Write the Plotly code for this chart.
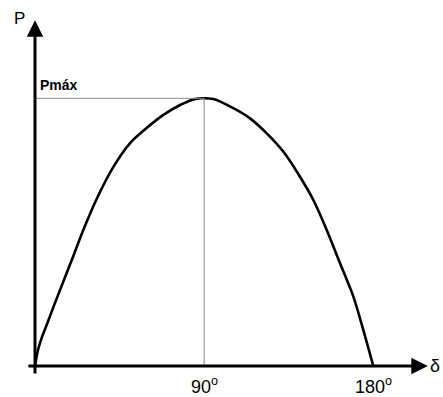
import plotly.graph_objects as go

# power-angle curve (delta in degrees, P relative to Pmax)
delta = [0, 1.6, 3.7, 6.4, 10.6, 15.4, 20.4, 25.7, 32.8, 41.7, 50.5, 59.4, 68.3,
         77.2, 83.5, 88.3, 94.9, 105.5, 114.4, 123.3, 132.1, 141.0, 148.1, 155.2,
         162.3, 169.4, 174.7, 180]
power = [0, 0.060, 0.108, 0.157, 0.235, 0.321, 0.411, 0.508, 0.624, 0.744, 0.832,
         0.889, 0.938, 0.975, 0.994, 1.0, 0.997, 0.963, 0.925, 0.869, 0.801, 0.707,
         0.620, 0.508, 0.384, 0.259, 0.134, 0]
tick_vals = [90, 180]
tick_text = ["90<sup>o</sup>", "180<sup>o</sup>"]
p_max = 1.0

W, H = 443, 397
FONT = "Liberation Sans, Arial, sans-serif"

fig = go.Figure()
fig.add_trace(go.Scatter(x=delta, y=power, mode="lines",
                         line=dict(color="black", width=2.6, shape="spline", smoothing=0.8),
                         hoverinfo="skip"))

# guide lines to the maximum
fig.add_shape(type="line", x0=0, y0=p_max, x1=90, y1=p_max,
              line=dict(color="#8a8a8a", width=1))
fig.add_shape(type="line", x0=90, y0=0, x1=90, y1=p_max,
              line=dict(color="#8a8a8a", width=1))

# axes with arrows
fig.add_annotation(x=209, y=0, ax=-4.3, ay=0, xref="x", yref="y", axref="x", ayref="y",
                   text="", showarrow=True, arrowhead=2, arrowsize=1.1, arrowwidth=3,
                   arrowcolor="black", standoff=0)
fig.add_annotation(x=0, y=1.292, ax=0, ay=-0.034, xref="x", yref="y", axref="x", ayref="y",
                   text="", showarrow=True, arrowhead=2, arrowsize=1.1, arrowwidth=3,
                   arrowcolor="black", standoff=0)

for v, t in zip(tick_vals, tick_text):
    fig.add_annotation(x=v, y=1 - 385 / H, xref="x", yref="paper", text=t,
                       showarrow=False, font=dict(family=FONT, size=18, color="black"),
                       xanchor="center", yanchor="middle")

fig.add_annotation(x=19 / W, y=1 - 19 / H, xref="paper", yref="paper", text="P",
                   showarrow=False, font=dict(family=FONT, size=17, color="black"),
                   xanchor="center", yanchor="middle")
fig.add_annotation(x=38 / W, y=1 - 85 / H, xref="paper", yref="paper", text="<b>Pmáx</b>",
                   showarrow=False, font=dict(family=FONT, size=14, color="black"),
                   xanchor="left", yanchor="middle")
fig.add_annotation(x=428 / W, y=1 - 366 / H, xref="paper", yref="paper", text="δ",
                   showarrow=False, font=dict(family=FONT, size=18, color="black"),
                   xanchor="left", yanchor="middle")

x_scale = 180 / (373.3 - 35)
y_scale = 1 / (366 - 98.3)
fig.update_layout(
    width=W, height=H,
    margin=dict(l=0, r=0, t=0, b=0),
    paper_bgcolor="white", plot_bgcolor="white",
    showlegend=False,
    xaxis=dict(visible=False, range=[-35 * x_scale, (W - 35) * x_scale], fixedrange=True),
    yaxis=dict(visible=False, range=[(366 - H) * y_scale, 366 * y_scale], fixedrange=True),
)

# drop the page's default body margin so the figure sits at the window corner
fig.write_html("out.html", config={"displayModeBar": False},
               post_script="document.body.style.margin='0';")
